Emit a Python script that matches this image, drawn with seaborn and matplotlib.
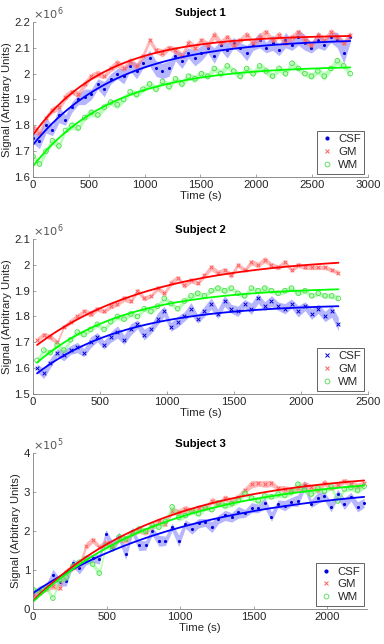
import numpy as np
import seaborn as sns
import matplotlib
matplotlib.use("Agg")
import matplotlib.pyplot as plt
from matplotlib.lines import Line2D
from matplotlib.ticker import FuncFormatter

# ---- Subject 1 (signal x1e6) ----
s1_time = [0, 58, 116, 174, 232, 290, 348, 406, 464, 522,
           580, 638, 696, 754, 812, 870, 928, 986, 1044, 1102,
           1160, 1218, 1276, 1334, 1392, 1450, 1508, 1566, 1624, 1682,
           1740, 1798, 1856, 1914, 1972, 2030, 2088, 2146, 2204, 2262,
           2320, 2378, 2436, 2494, 2552, 2610, 2668, 2726, 2784, 2842]
s1_csf = [1.75, 1.74, 1.80, 1.78, 1.84, 1.82, 1.87, 1.90, 1.91, 1.92,
          1.96, 1.94, 1.98, 2.00, 1.99, 2.03, 2.01, 2.04, 2.06, 2.02,
          2.01, 2.02, 2.07, 2.05, 2.08, 2.06, 2.08, 2.10, 2.07, 2.11,
          2.09, 2.12, 2.10, 2.08, 2.11, 2.13, 2.10, 2.12, 2.09, 2.13,
          2.11, 2.14, 2.12, 2.10, 2.13, 2.11, 2.14, 2.13, 2.08, 2.14]
s1_gm = [1.79, 1.77, 1.83, 1.86, 1.87, 1.91, 1.93, 1.92, 1.96, 1.99,
         2.00, 1.99, 2.02, 2.04, 2.02, 2.05, 2.03, 2.07, 2.13, 2.09,
         2.08, 2.10, 2.09, 2.07, 2.12, 2.10, 2.13, 2.11, 2.15, 2.12,
         2.14, 2.11, 2.13, 2.15, 2.12, 2.14, 2.16, 2.13, 2.15, 2.12,
         2.14, 2.16, 2.13, 2.11, 2.15, 2.13, 2.16, 2.14, 2.12, 2.15]
s1_wm = [1.68, 1.65, 1.70, 1.74, 1.72, 1.78, 1.80, 1.79, 1.83, 1.85,
         1.84, 1.87, 1.89, 1.88, 1.90, 1.93, 1.92, 1.94, 1.96, 1.94,
         1.97, 1.95, 1.98, 1.96, 1.99, 1.98, 2.00, 1.99, 2.02, 2.00,
         2.03, 2.01, 1.99, 2.02, 2.00, 2.03, 2.01, 1.99, 2.02, 2.00,
         2.04, 2.02, 2.00, 1.99, 2.01, 1.99, 2.02, 2.05, 2.03, 2.00]
s1_csf_err = [0.02, 0.03, 0.03, 0.02, 0.03, 0.02, 0.02, 0.02, 0.03, 0.02,
              0.02, 0.03, 0.02, 0.02, 0.03, 0.02, 0.03, 0.02, 0.03, 0.03,
              0.03, 0.03, 0.02, 0.03, 0.02, 0.03, 0.03, 0.02, 0.03, 0.02,
              0.03, 0.02, 0.02, 0.03, 0.02, 0.03, 0.02, 0.03, 0.02, 0.03,
              0.02, 0.03, 0.03, 0.02, 0.03, 0.02, 0.02, 0.03, 0.04, 0.02]
s1_gm_err = [0.012, 0.015, 0.010, 0.014, 0.012, 0.016, 0.011, 0.013, 0.015, 0.012,
             0.014, 0.010, 0.013, 0.016, 0.012, 0.014, 0.011, 0.015, 0.013, 0.012,
             0.016, 0.011, 0.014, 0.012, 0.015, 0.013, 0.011, 0.014, 0.016, 0.012,
             0.013, 0.015, 0.011, 0.014, 0.012, 0.016, 0.013, 0.011, 0.015, 0.012,
             0.014, 0.013, 0.016, 0.011, 0.014, 0.012, 0.015, 0.013, 0.012, 0.014]
s1_wm_err = [0.013, 0.011, 0.015, 0.012, 0.014, 0.011, 0.016, 0.012, 0.013, 0.015,
             0.011, 0.014, 0.012, 0.016, 0.013, 0.011, 0.015, 0.012, 0.014, 0.013,
             0.011, 0.016, 0.012, 0.014, 0.013, 0.015, 0.011, 0.014, 0.012, 0.016,
             0.013, 0.011, 0.015, 0.012, 0.014, 0.013, 0.016, 0.011, 0.014, 0.012,
             0.015, 0.013, 0.011, 0.014, 0.012, 0.016, 0.013, 0.015, 0.012, 0.014]

# ---- Subject 2 (signal x1e6) ----
s2_time = [30, 80, 130, 180, 230, 280, 330, 380, 430, 480,
           530, 580, 630, 680, 730, 780, 830, 880, 930, 980,
           1030, 1080, 1130, 1180, 1230, 1280, 1330, 1380, 1430, 1480,
           1530, 1580, 1630, 1680, 1730, 1780, 1830, 1880, 1930, 1980,
           2030, 2080, 2130, 2180, 2230, 2280]
s2_csf = [1.60, 1.58, 1.62, 1.66, 1.65, 1.67, 1.68, 1.66, 1.70, 1.72,
          1.69, 1.72, 1.74, 1.71, 1.75, 1.77, 1.73, 1.75, 1.79, 1.82,
          1.76, 1.78, 1.80, 1.83, 1.79, 1.82, 1.85, 1.81, 1.86, 1.83,
          1.82, 1.85, 1.83, 1.87, 1.84, 1.86, 1.84, 1.83, 1.85, 1.82,
          1.84, 1.81, 1.83, 1.80, 1.82, 1.77]
s2_gm = [1.71, 1.73, 1.72, 1.70, 1.76, 1.78, 1.80, 1.82, 1.81, 1.83,
         1.82, 1.84, 1.85, 1.87, 1.86, 1.90, 1.87, 1.88, 1.91, 1.89,
         1.93, 1.95, 1.92, 1.94, 1.93, 1.96, 1.99, 1.97, 1.98, 1.96,
         2.00, 1.98, 2.01, 2.00, 2.02, 2.00, 1.99, 2.01, 1.98, 2.00,
         1.99, 1.99, 1.99, 1.99, 1.98, 1.97]
s2_wm = [1.63, 1.67, 1.66, 1.69, 1.67, 1.71, 1.74, 1.73, 1.75, 1.77,
         1.75, 1.78, 1.80, 1.79, 1.81, 1.80, 1.83, 1.82, 1.84, 1.87,
         1.85, 1.83, 1.86, 1.88, 1.89, 1.88, 1.90, 1.91, 1.90, 1.91,
         1.89, 1.88, 1.91, 1.90, 1.91, 1.90, 1.89, 1.90, 1.91, 1.89,
         1.90, 1.88, 1.89, 1.88, 1.88, 1.87]
s2_csf_err = [0.015, 0.020, 0.018, 0.015, 0.022, 0.017, 0.020, 0.016, 0.021, 0.018,
              0.016, 0.020, 0.024, 0.018, 0.022, 0.017, 0.021, 0.016, 0.023, 0.020,
              0.017, 0.021, 0.018, 0.024, 0.016, 0.020, 0.022, 0.018, 0.021, 0.017,
              0.020, 0.016, 0.022, 0.019, 0.017, 0.021, 0.016, 0.020, 0.018, 0.022,
              0.017, 0.021, 0.018, 0.020, 0.023, 0.025]
s2_gm_err = [0.010, 0.009, 0.011, 0.010, 0.008, 0.011, 0.010, 0.009, 0.012, 0.010,
             0.009, 0.011, 0.010, 0.012, 0.009, 0.011, 0.010, 0.008, 0.011, 0.010,
             0.012, 0.009, 0.011, 0.010, 0.009, 0.011, 0.012, 0.010, 0.009, 0.011,
             0.010, 0.009, 0.011, 0.010, 0.012, 0.009, 0.010, 0.011, 0.009, 0.010,
             0.008, 0.009, 0.008, 0.009, 0.008, 0.009]
s2_wm_err = [0.010, 0.011, 0.009, 0.010, 0.012, 0.010, 0.011, 0.009, 0.010, 0.011,
             0.009, 0.010, 0.012, 0.010, 0.009, 0.011, 0.010, 0.012, 0.009, 0.011,
             0.010, 0.009, 0.011, 0.010, 0.012, 0.009, 0.010, 0.011, 0.012, 0.010,
             0.009, 0.011, 0.010, 0.009, 0.011, 0.010, 0.009, 0.011, 0.010, 0.009,
             0.010, 0.009, 0.010, 0.009, 0.010, 0.011]

# ---- Subject 3 (signal x1e5) ----
s3_time = [0, 45, 90, 135, 180, 225, 270, 315, 360, 405,
           450, 495, 540, 585, 630, 675, 720, 765, 810, 855,
           900, 945, 990, 1035, 1080, 1125, 1170, 1215, 1260, 1305,
           1350, 1395, 1440, 1485, 1530, 1575, 1620, 1665, 1710, 1755,
           1800, 1845, 1890, 1935, 1980, 2025, 2070, 2115, 2160, 2205,
           2250]
s3_csf = [0.39, 0.48, 0.55, 0.88, 0.70, 0.72, 1.18, 1.05, 1.25, 1.30,
          1.28, 1.93, 1.60, 1.85, 1.42, 2.00, 1.63, 1.63, 2.00, 1.75,
          1.75, 2.10, 1.75, 2.18, 2.05, 2.20, 2.22, 2.10, 2.30, 2.40,
          2.35, 2.48, 2.45, 2.60, 2.58, 2.72, 2.37, 2.70, 2.65, 2.75,
          2.78, 3.18, 2.70, 2.85, 2.90, 2.62, 2.95, 2.70, 2.88, 2.62,
          2.72]
s3_gm = [0.35, 0.42, 0.52, 0.60, 0.55, 0.95, 1.08, 1.15, 1.62, 1.77,
         1.60, 1.70, 1.62, 1.80, 1.78, 1.95, 2.02, 1.98, 2.12, 2.25,
         2.18, 2.52, 2.48, 2.56, 2.52, 2.60, 2.58, 2.78, 2.70, 2.85,
         2.74, 2.88, 3.05, 3.20, 3.22, 3.21, 3.22, 3.10, 3.08, 3.04,
         3.10, 3.18, 3.12, 3.05, 3.24, 3.10, 3.18, 3.28, 3.21, 3.15,
         3.22]
s3_wm = [0.50, 0.45, 0.55, 0.28, 0.75, 0.82, 1.10, 1.20, 1.30, 1.15,
         0.92, 1.62, 1.55, 1.85, 1.80, 1.95, 2.05, 2.00, 2.15, 2.10,
         2.25, 2.62, 2.35, 2.40, 2.52, 2.45, 2.60, 2.55, 2.72, 2.65,
         2.70, 2.80, 2.97, 2.85, 2.78, 2.90, 2.88, 2.95, 2.92, 3.00,
         3.20, 3.05, 2.95, 3.10, 3.02, 3.15, 2.77, 3.08, 3.12, 3.05,
         3.15]
s3_csf_err = [0.10, 0.12, 0.09, 0.14, 0.11, 0.13, 0.10, 0.15, 0.12, 0.10,
              0.13, 0.11, 0.14, 0.12, 0.15, 0.10, 0.13, 0.12, 0.11, 0.14,
              0.12, 0.10, 0.15, 0.11, 0.13, 0.12, 0.10, 0.14, 0.11, 0.13,
              0.12, 0.15, 0.10, 0.13, 0.11, 0.14, 0.12, 0.10, 0.13, 0.11,
              0.15, 0.12, 0.10, 0.14, 0.11, 0.13, 0.12, 0.15, 0.11, 0.13,
              0.12]
s3_gm_err = [0.07, 0.08, 0.06, 0.09, 0.07, 0.08, 0.10, 0.07, 0.09, 0.08,
             0.06, 0.09, 0.07, 0.08, 0.10, 0.07, 0.08, 0.09, 0.06, 0.08,
             0.07, 0.09, 0.08, 0.10, 0.07, 0.08, 0.06, 0.09, 0.07, 0.08,
             0.09, 0.07, 0.08, 0.10, 0.07, 0.09, 0.08, 0.06, 0.09, 0.07,
             0.08, 0.10, 0.07, 0.08, 0.09, 0.06, 0.08, 0.07, 0.09, 0.08,
             0.07]
s3_wm_err = [0.08, 0.07, 0.09, 0.06, 0.08, 0.10, 0.07, 0.09, 0.08, 0.07,
             0.09, 0.08, 0.06, 0.10, 0.07, 0.08, 0.09, 0.07, 0.08, 0.06,
             0.09, 0.08, 0.10, 0.07, 0.08, 0.09, 0.07, 0.06, 0.08, 0.09,
             0.07, 0.10, 0.08, 0.07, 0.09, 0.08, 0.06, 0.09, 0.07, 0.08,
             0.10, 0.07, 0.09, 0.08, 0.06, 0.09, 0.08, 0.07, 0.09, 0.08,
             0.07]

tissues = ["CSF", "GM", "WM"]
line_colors = {"CSF": "#0000ff", "GM": "#ff0000", "WM": "#00ff00"}
band_colors = {"CSF": "#6f6fff", "GM": "#ff7070", "WM": "#70ff70"}
mark_colors = {"CSF": "#0000d8", "GM": "#ff5c5c", "WM": "#4fd84f"}


def fit_exp(t, y):
    # simple recovery fit: y = a + b*exp(-t/tau), grid over tau
    t = np.asarray(t, float)
    y = np.asarray(y, float)
    best = None
    for tau in np.linspace(100, 4000, 800):
        X = np.column_stack([np.ones_like(t), np.exp(-t / tau)])
        coef = np.linalg.lstsq(X, y, rcond=None)[0]
        sse = np.sum((X @ coef - y) ** 2)
        if best is None or sse < best[0]:
            best = (sse, tau, coef)
    _, tau, coef = best
    tt = np.linspace(t[0], t[-1], 200)
    return tt, coef[0] + coef[1] * np.exp(-tt / tau)


panels = [
    dict(title="Subject 1", t=s1_time, data=[s1_csf, s1_gm, s1_wm],
         err=[s1_csf_err, s1_gm_err, s1_wm_err], scale=1e6, exp="6",
         xlim=(0, 3000), xticks=range(0, 3001, 500),
         ylim=(1.6, 2.2), yticks=[1.6, 1.7, 1.8, 1.9, 2.0, 2.1, 2.2],
         csf_marker=".", rect=[0.086, 0.7252, 0.872, 0.2407]),
    dict(title="Subject 2", t=s2_time, data=[s2_csf, s2_gm, s2_wm],
         err=[s2_csf_err, s2_gm_err, s2_wm_err], scale=1e6, exp="6",
         xlim=(0, 2500), xticks=range(0, 2501, 500),
         ylim=(1.5, 2.1), yticks=[1.5, 1.6, 1.7, 1.8, 1.9, 2.0, 2.1],
         csf_marker="x", rect=[0.086, 0.3882, 0.872, 0.2407]),
    dict(title="Subject 3", t=s3_time, data=[s3_csf, s3_gm, s3_wm],
         err=[s3_csf_err, s3_gm_err, s3_wm_err], scale=1e5, exp="5",
         xlim=(0, 2270), xticks=range(0, 2001, 500),
         ylim=(0, 4), yticks=[0, 1, 2, 3, 4],
         csf_marker=".", rect=[0.086, 0.0543, 0.870, 0.2422]),
]

sns.set_theme(style="white")
plt.rcParams["font.family"] = ["Liberation Sans", "DejaVu Sans"]
axis_col = "#262626"
fs = 8.2

fig = plt.figure(figsize=(3.84, 6.44), dpi=100)

for p in panels:
    ax = fig.add_axes(p["rect"])
    sc = p["scale"]
    t = np.asarray(p["t"], float)
    markers = {"CSF": p["csf_marker"], "GM": "x", "WM": "o"}
    fits = []
    for name, vals, err in zip(tissues, p["data"], p["err"]):
        y = np.asarray(vals) * sc
        e = np.asarray(err) * sc
        ax.fill_between(t, y - e, y + e, color=band_colors[name], alpha=0.5, lw=0)
        m = markers[name]
        if m == "o":
            sns.scatterplot(x=t, y=y, ax=ax, marker="o", s=11, facecolor="none",
                            edgecolor=mark_colors[name], linewidth=0.6)
        elif m == "x":
            sns.scatterplot(x=t, y=y, ax=ax, marker="x", s=7, color=mark_colors[name],
                            linewidth=0.7)
        else:
            sns.scatterplot(x=t, y=y, ax=ax, marker="o", s=5, color=mark_colors[name],
                            linewidth=0)
        fits.append((name, fit_exp(t, y)))
    for name, (tt, yy) in fits:
        sns.lineplot(x=tt, y=yy, ax=ax, color=line_colors[name], lw=1.3)

    ax.set_xlim(*p["xlim"])
    ax.set_ylim(p["ylim"][0] * sc, p["ylim"][1] * sc)
    ax.set_xticks(list(p["xticks"]))
    ax.set_yticks([v * sc for v in p["yticks"]])
    ax.yaxis.set_major_formatter(FuncFormatter(lambda v, pos, s=sc: f"{v / s:g}"))
    ax.xaxis.set_major_formatter(FuncFormatter(lambda v, pos: f"{v:g}"))
    for side in ["top", "right"]:
        ax.spines[side].set_visible(False)
    for side in ["left", "bottom"]:
        ax.spines[side].set_color("#7f7f7f")
        ax.spines[side].set_linewidth(0.6)
    ax.tick_params(direction="in", length=2.5, width=0.5, color="#7f7f7f",
                   labelsize=fs, labelcolor=axis_col, pad=2, left=True, bottom=True)
    ax.set_title(p["title"], fontsize=fs, fontweight="bold", color="black", pad=4)
    ax.set_xlabel("Time (s)", fontsize=fs, color=axis_col, labelpad=1)
    ax.set_ylabel("Signal (Arbitrary Units)", fontsize=fs, color=axis_col, labelpad=2)
    ax.text(0.0, 1.0, r"$\times10^{%s}$" % p["exp"], transform=ax.transAxes,
            ha="left", va="bottom", fontsize=fs, color="#555555")

    handles = []
    for name in tissues:
        m = markers[name]
        if m == "o":
            h = Line2D([], [], ls="none", marker="o", markersize=3.5, markerfacecolor="none",
                       markeredgecolor=mark_colors[name], markeredgewidth=0.6)
        elif m == "x":
            h = Line2D([], [], ls="none", marker="x", markersize=3, color=mark_colors[name],
                       markeredgewidth=0.7)
        else:
            h = Line2D([], [], ls="none", marker="o", markersize=2, color=mark_colors[name])
        handles.append(h)
    leg = ax.legend(handles, tissues, loc="lower right", fontsize=fs, frameon=True,
                    fancybox=False, framealpha=1, edgecolor=axis_col, handlelength=1.2,
                    handletextpad=0.4, borderpad=0.3, labelspacing=0.25,
                    borderaxespad=0.3)
    leg.get_frame().set_linewidth(0.5)

fig.savefig("out.png", dpi=100)
